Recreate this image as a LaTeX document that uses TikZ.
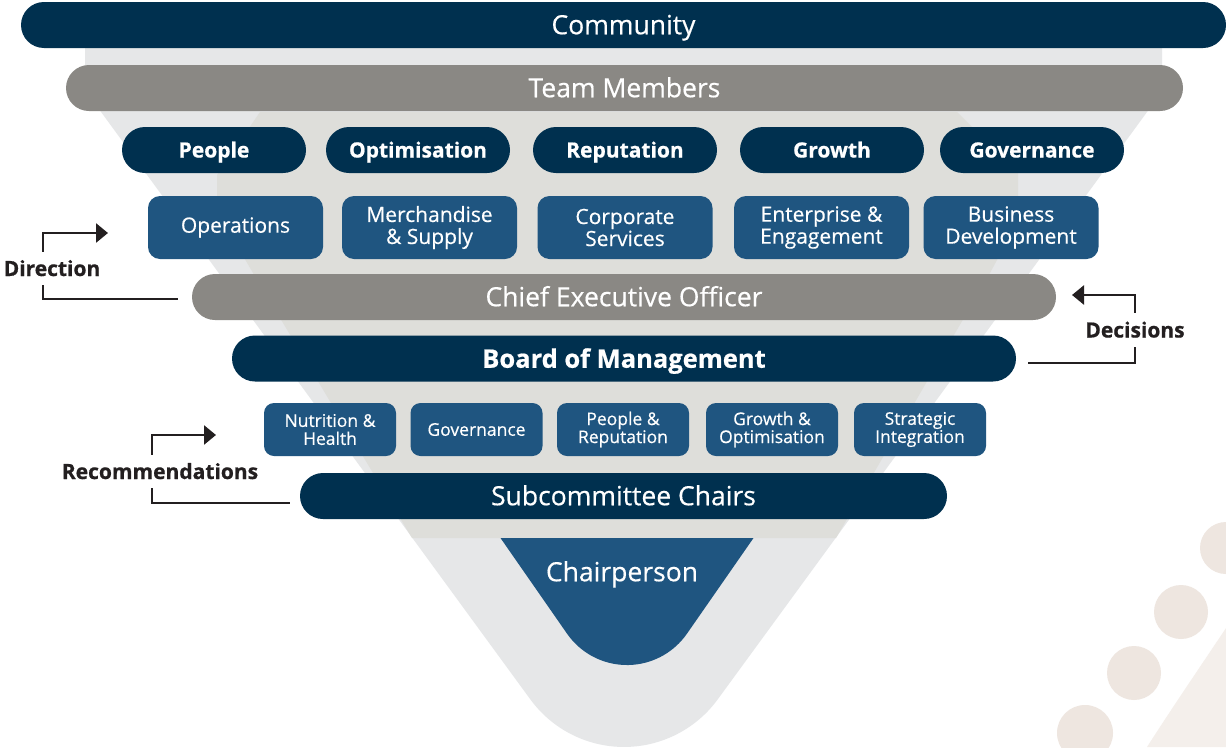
\documentclass[tikz,border=0pt]{standalone}
\usepackage{fontspec}
\setmainfont{Open Sans}[UprightFeatures={FakeBold=0.4}, BoldFeatures={FakeBold=0.7}]
\usetikzlibrary{shapes.misc,arrows.meta}

\definecolor{navy}{HTML}{00304F}
\definecolor{stone}{HTML}{8A8884}
\definecolor{steel}{HTML}{1F5580}
\definecolor{funnelout}{HTML}{E6E7E8}
\definecolor{funnelin}{HTML}{DEDEDA}
\definecolor{ink}{HTML}{231F20}
\definecolor{dot}{HTML}{EEE6E0}
\definecolor{sweep}{HTML}{F4EFEB}

\tikzset{
  bar/.style={rounded rectangle, inner sep=0pt, minimum height=46pt,
    text=white, text height=18.5pt, text depth=0pt,
    font=\fontsize{26.5}{26.5}\selectfont},
  navybar/.style={bar, fill=navy},
  stonebar/.style={bar, fill=stone},
  pillbox/.style={rounded rectangle, fill=navy, inner sep=0pt,
    minimum width=184pt, minimum height=46pt, text=white,
    text height=15pt, text depth=0pt,
    font=\bfseries\fontsize{21}{21}\selectfont},
  unitbox/.style={rectangle, rounded corners=12pt, fill=steel, inner sep=0pt,
    minimum width=175pt, minimum height=63pt, text=white, align=center,
    font=\fontsize{21}{22}\selectfont},
  subbox/.style={rectangle, rounded corners=10pt, fill=steel, inner sep=0pt,
    minimum width=132pt, minimum height=53pt, text=white, align=center,
    font=\fontsize{17.5}{18}\selectfont},
  flowlabel/.style={inner sep=0pt, text=ink, text height=15pt, text depth=0pt,
    font=\bfseries\fontsize{21}{21}\selectfont},
  flow/.style={draw=ink, line width=2.6pt},
  flowarrow/.style={flow, -{Triangle[length=12pt,width=19pt]}},
}

\begin{document}
\begin{tikzpicture}[x=1pt,y=1pt]
  \useasboundingbox (0,0) rectangle (1226,-747);
  \fill[white] (0,0) rectangle (1226,-747);

  % decorative dots and sweep, lower right
  \fill[sweep] (1147,-747) .. controls (1172,-708) and (1200,-667) .. (1226,-628) -- (1226,-747) -- cycle;
  \fill[dot] (1226,-548) circle (26);
  \fill[dot] (1181,-612) circle (27);
  \fill[dot] (1134,-673) circle (27);
  \fill[dot] (1085,-733) circle (28);

  % funnel backdrop
  \fill[funnelout] (85,-35) -- (85,-90) -- (530.3,-699.3)
    arc[start angle=216.1, end angle=323.9, radius=116]
    -- (1162,-91.5) -- (1162,-35) -- cycle;
  \fill[funnelin] (260,-112) -- (217,-175) -- (217,-211) -- (253,-273)
    -- (412,-538) -- (836,-538) -- (990,-273) -- (1018,-221)
    -- (1018,-173) -- (957,-112) -- cycle;

  % chairperson at the funnel tip
  \fill[steel] (500.5,-538) -- (567.2,-633.9)
    arc[start angle=215, end angle=325, radius=73] -- (753.5,-538) -- cycle;
  \node[text=white, inner sep=0pt, text height=18.5pt, text depth=0pt,
    font=\fontsize{26.5}{26.5}\selectfont] (chair) at (622,-572) {Chairperson};

  % tiers
  \node[navybar, minimum width=1205pt] (community) at (623.5,-25) {Community};
  \node[stonebar, minimum width=1117pt] (team) at (624.5,-88) {Team Members};

  \node[pillbox] (people) at (214,-150) {People};
  \node[pillbox] (optim)  at (418,-150) {Optimisation};
  \node[pillbox] (reput)  at (625,-150) {Reputation};
  \node[pillbox] (growth) at (832,-150) {Growth};
  \node[pillbox] (gov)    at (1032,-150) {Governance};

  \node[unitbox] (ops)   at (235.5,-227.5) {Operations};
  \node[unitbox] (merch) at (429.5,-227.5) {Merchandise\\\& Supply};
  \node[unitbox] (corp)  at (625,-227.5) {Corporate\\Services};
  \node[unitbox] (ent)   at (821.5,-227.5) {Enterprise \&\\Engagement};
  \node[unitbox] (bizdev) at (1011,-227.5) {Business\\Development};

  \node[stonebar, minimum width=864pt] (ceo) at (624,-297) {Chief Executive Officer};
  \node[navybar, minimum width=784pt, font=\bfseries\fontsize{25.5}{25.5}\selectfont]
    (board) at (624,-358.5) {Board of Management};

  \node[subbox] (nutr)  at (330,-429.5) {Nutrition \&\\Health};
  \node[subbox] (sgov)  at (476.5,-429.5) {Governance};
  \node[subbox] (speop) at (623,-429.5) {People \&\\Reputation};
  \node[subbox] (sgrow) at (772,-429.5) {Growth \&\\Optimisation};
  \node[subbox] (strat) at (920,-429.5) {Strategic\\Integration};

  \node[navybar, minimum width=647pt] (subch) at (623.5,-496) {Subcommittee Chairs};

  % flow labels
  \node[flowlabel, minimum height=33pt] (dirlab) at (52,-268.5) {Direction};
  \node[flowlabel, minimum height=34pt] (declab) at (1135,-330) {Decisions};
  \node[flowlabel, minimum height=33pt] (reclab) at (160,-471.5) {Recommendations};

  \coordinate (dirtip) at (108,-233);
  \coordinate (dectip) at (1072,-295);
  \coordinate (rectip) at (216,-435);

  % direction: CEO out to the business units
  \draw[flow] ([xshift=-14pt,yshift=-2pt]ceo.west) -| ([xshift=-9pt]dirlab.south);
  \draw[flowarrow] ([xshift=-9pt]dirlab.north) |- (dirtip);

  % decisions: board up to CEO
  \draw[flow] ([xshift=12pt,yshift=-4.5pt]board.east) -| (declab.south);
  \draw[flowarrow] (declab.north) |- (dectip);

  % recommendations: chairs up to subcommittees
  \draw[flow] ([xshift=-10pt,yshift=-7pt]subch.west) -| ([xshift=-8pt]reclab.south);
  \draw[flowarrow] ([xshift=-8pt]reclab.north) |- (rectip);
\end{tikzpicture}
\end{document}
